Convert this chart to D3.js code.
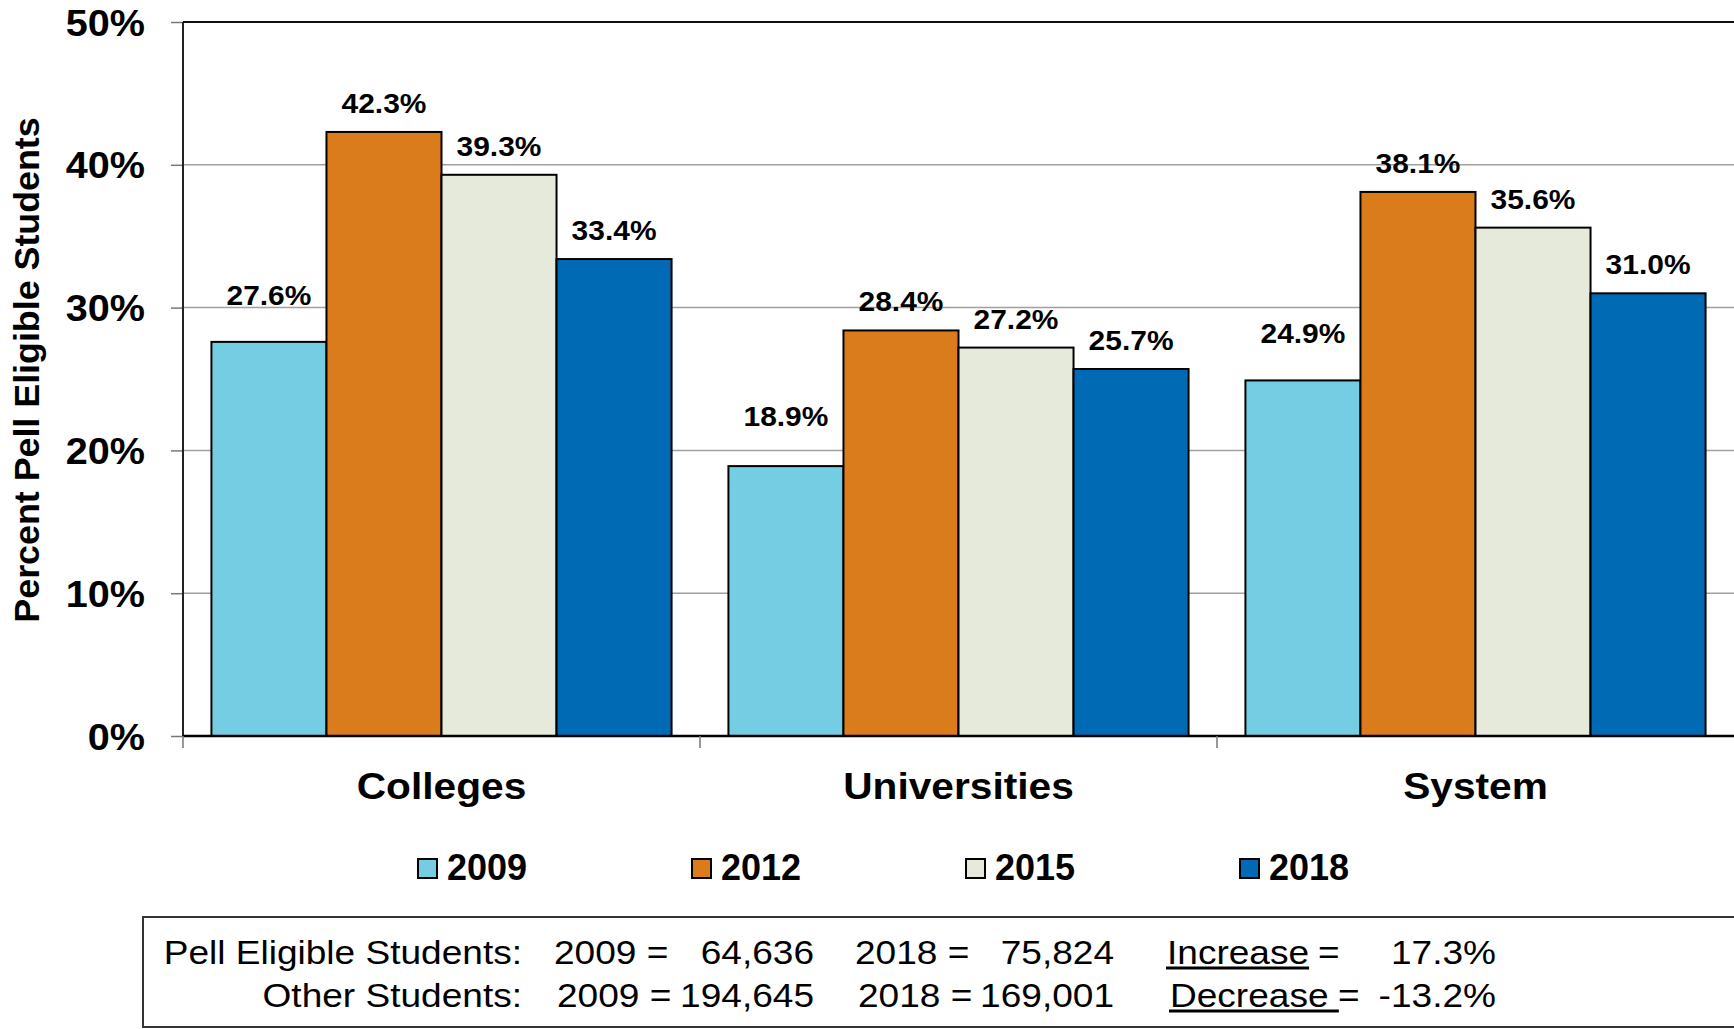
<!DOCTYPE html>
<html>
<head>
<meta charset="utf-8">
<script src="https://cdn.jsdelivr.net/npm/d3@7"></script>
<style>
  html, body { margin: 0; padding: 0; background: #fff; }
  svg { display: block; font-family: "Liberation Sans", Arial, sans-serif; }
</style>
</head>
<body>
<svg id="chart" width="1734" height="1029"></svg>
<script>
// ---- data ----
const categories = ["Colleges", "Universities", "System"];
const years = ["2009", "2012", "2015", "2018"];
const values2009 = [27.6, 18.9, 24.9];
const values2012 = [42.3, 28.4, 38.1];
const values2015 = [39.3, 27.2, 35.6];
const values2018 = [33.4, 25.7, 31.0];
const yTicks = [0, 10, 20, 30, 40, 50];
const colors = ["#74CDE3", "#DA7B1C", "#E6EADA", "#006AB5"];
const yTitle = "Percent Pell Eligible Students";
// summary box
const pellLabel = "Pell Eligible Students:";
const otherLabel = "Other Students:";
const pell2009 = 64636, pell2018 = 75824, pellChange = 17.3;
const other2009 = 194645, other2018 = 169001, otherChange = -13.2;

const seriesValues = [values2009, values2012, values2015, values2018];

// ---- layout ----
const svg = d3.select("#chart");
const L = 183, R = 1734, T = 22, B = 736;

const x0 = d3.scaleBand().domain(categories).range([L, R]).paddingInner(0.11).paddingOuter(0.055);
const x1 = d3.scaleBand().domain(years).range([0, x0.bandwidth()]).padding(0);
const y = d3.scaleLinear().domain([0, 50]).range([B, T]);

function place(sel, x, yy, sx) {
  return sel.attr("transform", `translate(${x},${yy}) scale(${sx},1)`);
}

// gridlines
svg.append("g").selectAll("line").data(yTicks.filter(d => d > 0 && d < 50)).join("line")
  .attr("x1", L).attr("x2", R).attr("y1", d => y(d)).attr("y2", d => y(d))
  .attr("stroke", "#a0a0a0").attr("stroke-width", 1.5);

// y axis
const yAxis = svg.append("g").attr("transform", `translate(${L},0)`)
  .call(d3.axisLeft(y).tickValues(yTicks).tickSize(12).tickFormat(d => d + "%"));
yAxis.select(".domain").remove();
yAxis.selectAll(".tick line").attr("stroke", "#777").attr("stroke-width", 1.5);
yAxis.selectAll(".tick text").each(function(d) {
  const t = d3.select(this);
  t.attr("x", null).attr("dy", null).attr("text-anchor", "end")
   .attr("font-size", 37).attr("font-weight", "bold").attr("fill", "#000")
   .attr("dominant-baseline", "central");
  place(t, 145 - L, 0, 1.07);
});

// left axis line & top border
svg.append("line").attr("x1", L).attr("x2", L).attr("y1", T).attr("y2", B)
  .attr("stroke", "#222").attr("stroke-width", 2);
svg.append("line").attr("x1", L).attr("x2", R).attr("y1", T).attr("y2", T)
  .attr("stroke", "#111").attr("stroke-width", 2);

// bars
const groups = svg.append("g").selectAll("g").data(categories).join("g")
  .attr("transform", d => `translate(${x0(d)},0)`);

const cellData = (c, ci) => years.map((yr, si) => ({ yr, si, ci, v: seriesValues[si][ci] }));

groups.selectAll("rect").data(cellData)
  .join("rect")
  .attr("x", d => x1(d.yr)).attr("width", x1.bandwidth())
  .attr("y", d => y(d.v)).attr("height", d => B - y(d.v))
  .attr("fill", d => colors[d.si]).attr("stroke", "#000").attr("stroke-width", 2);

// label offset above bar top (first series labels sit higher, as in the original)
const labelLift = d => d.si === 0 ? (d.ci === 1 ? 40 : 37) : 19;
groups.selectAll("text.val").data(cellData)
  .join("text").attr("class", "val")
  .attr("text-anchor", "middle").attr("font-size", 28).attr("font-weight", "bold").attr("fill", "#000")
  .text(d => d.v.toFixed(1) + "%")
  .each(function(d) {
    place(d3.select(this), x1(d.yr) + x1.bandwidth() / 2, y(d.v) - labelLift(d), 1.07);
  });

// x axis
svg.append("line").attr("x1", L).attr("x2", R).attr("y1", B).attr("y2", B)
  .attr("stroke", "#000").attr("stroke-width", 2.5);
svg.append("g").selectAll("line").data(categories).join("line")
  .attr("x1", d => x0(d) - (x0.step() - x0.bandwidth()) / 2)
  .attr("x2", d => x0(d) - (x0.step() - x0.bandwidth()) / 2)
  .attr("y1", B).attr("y2", B + 12)
  .attr("stroke", "#777").attr("stroke-width", 1.5);

svg.append("g").selectAll("text").data(categories).join("text")
  .attr("text-anchor", "middle").attr("font-size", 36).attr("font-weight", "bold").attr("fill", "#000")
  .text(d => d)
  .each(function(d) { place(d3.select(this), x0(d) + x0.bandwidth() / 2, 799, 1.13); });

// y title
svg.append("text")
  .attr("transform", "translate(39,370) rotate(-90)")
  .attr("text-anchor", "middle").attr("font-size", 35.8).attr("font-weight", "bold").attr("fill", "#000")
  .text(yTitle);

// legend
const leg = svg.append("g").selectAll("g").data(years).join("g")
  .attr("transform", (d, i) => `translate(${417 + i * 274},858)`);
leg.append("rect").attr("x", 1).attr("y", 1).attr("width", 19).attr("height", 19)
  .attr("fill", (d, i) => colors[i]).attr("stroke", "#000").attr("stroke-width", 2);
leg.append("text").attr("x", 30).attr("y", 22)
  .attr("font-size", 36).attr("font-weight", "bold").attr("fill", "#000").text(d => d);

// summary box
svg.append("rect").attr("x", 143).attr("y", 917).attr("width", 1700).attr("height", 110)
  .attr("fill", "none").attr("stroke", "#333").attr("stroke-width", 2);

const fmt = d3.format(",");
const boxG = svg.append("g").attr("font-size", 34).attr("fill", "#000");
const SX = 1.09;
function boxText(str, x, yy, anchor) {
  const t = boxG.append("text").attr("text-anchor", anchor).text(str);
  place(t, x, yy, SX);
  return t;
}
const rows = [
  { label: pellLabel, a: pell2009, b: pell2018, word: "Increase", chg: pellChange, yy: 964, eqA: 554, eqB: 855, eqW: 1318, wx: 1167 },
  { label: otherLabel, a: other2009, b: other2018, word: "Decrease ", chg: otherChange, yy: 1007, eqA: 557, eqB: 858, eqW: 1338, wx: 1170 }
];
rows.forEach(r => {
  boxText(r.label, 522, r.yy, "end");
  boxText("2009 =", r.eqA, r.yy, "start");
  boxText(fmt(r.a), 814, r.yy, "end");
  boxText("2018 =", r.eqB, r.yy, "start");
  boxText(fmt(r.b), 1114, r.yy, "end");
  const w = boxText(r.word, r.wx, r.yy, "start").attr("xml:space", "preserve").style("white-space", "pre");
  const len = w.node().getComputedTextLength() * SX;
  boxG.append("line").attr("x1", r.wx - 1).attr("x2", r.wx + len).attr("y1", r.yy + 4).attr("y2", r.yy + 4)
    .attr("stroke", "#000").attr("stroke-width", 3);
  boxText("=", r.eqW, r.yy, "start");
  boxText(r.chg.toFixed(1) + "%", 1496, r.yy, "end");
});
</script>
</body>
</html>
